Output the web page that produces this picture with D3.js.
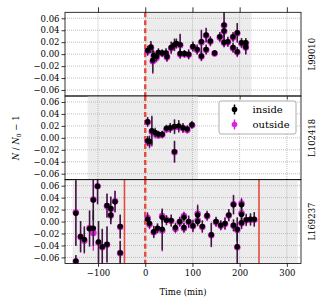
<!DOCTYPE html>
<html><head><meta charset="utf-8">
<script src="https://cdn.jsdelivr.net/npm/d3@7"></script>
<style>body{margin:0;background:#fff}svg{display:block}text{font-family:"DejaVu Serif",serif;fill:#000}</style>
</head><body><svg id="c" width="324" height="306"></svg>
<script>
const panelNames = ["L99010", "L102418", "L169237"];
const xTicks = [-100, 0, 100, 200, 300];
const yTicks = [0.06, 0.04, 0.02, 0.00, -0.02, -0.04, -0.06];
const shadeStart = [0, -122, -154];
const shadeEnd = [225, 112, 323];
const cutLines3 = [-44, 241];

// Panel 1: L99010
const t1 = [5, 12, 16, 18, 24, 28, 36, 44, 46, 55, 62, 66, 74, 74, 83, 92, 101, 110, 119, 119, 129, 129, 138, 147, 158, 167, 167, 167, 175, 186, 186, 195, 195, 204, 213, 213];
const in1 = [0.006, 0.012, -0.010, -0.002, -0.004, 0.003, 0.002, 0.002, -0.004, 0.011, 0.016, 0.018, 0.016, 0.001, 0.001, 0.000, 0.013, 0.008, 0.021, -0.003, 0.032, 0.008, 0.022, 0.002, 0.029, 0.049, 0.039, 0.020, 0.021, 0.029, 0.011, 0.036, 0.004, 0.019, 0.019, 0.012];
const e1 = [0.008, 0.010, 0.021, 0.008, 0.008, 0.007, 0.006, 0.008, 0.008, 0.010, 0.010, 0.008, 0.018, 0.008, 0.006, 0.008, 0.008, 0.008, 0.020, 0.008, 0.012, 0.008, 0.008, 0.005, 0.008, 0.022, 0.010, 0.008, 0.008, 0.008, 0.008, 0.016, 0.008, 0.008, 0.008, 0.012];
const out1 = [0.005, 0.011, -0.012, -0.003, -0.006, 0.002, 0.001, 0.001, -0.005, 0.010, 0.015, 0.017, 0.015, 0.000, 0.000, -0.001, 0.012, 0.007, 0.020, -0.004, 0.031, 0.007, 0.021, 0.001, 0.028, 0.048, 0.038, 0.019, 0.020, 0.028, 0.010, 0.035, 0.003, 0.018, 0.018, 0.011];

// Panel 2: L102418
const t2 = [5, 5, 9, 14, 21, 28, 36, 45, 53, 62, 62, 71, 80, 89, 99];
const in2 = [0.027, -0.005, -0.006, 0.012, 0.009, 0.006, 0.006, 0.016, 0.017, 0.019, -0.023, 0.020, 0.017, 0.015, 0.022];
const e2 = [0.008, 0.008, 0.010, 0.025, 0.008, 0.006, 0.006, 0.006, 0.008, 0.012, 0.018, 0.010, 0.008, 0.006, 0.006];
const out2 = [0.026, -0.006, -0.008, 0.010, 0.007, 0.004, 0.005, 0.014, 0.016, 0.018, -0.024, 0.018, 0.016, 0.013, 0.021];

// Panel 3: L169237
const t3 = [-147, -147, -137, -129, -118, -110, -110, -101, -99, -91, -81, -81, -73, -73, -64, -53, -53,
  5, 9, 18, 26, 36, 36, 45, 55, 64, 73, 82, 82, 92, 101, 111, 111, 121, 131, 140, 150, 160, 169, 177, 187, 187, 195, 195, 204, 204, 204, 214, 223, 231];
const in3 = [0.014, -0.066, -0.025, -0.030, -0.012, -0.011, 0.036, 0.059, -0.034, -0.042, -0.038, 0.027, 0.022, 0.011, 0.033, -0.008, -0.052,
  0.004, -0.003, -0.017, -0.011, -0.013, 0.007, 0.002, 0.002, -0.010, 0.000, 0.007, -0.010, 0.000, -0.007, 0.011, 0.000, -0.008, 0.010, -0.022, 0.000, -0.006, -0.003, 0.011, 0.028, -0.006, -0.013, -0.042, 0.028, 0.012, -0.002, 0.003, 0.004, 0.004];
const e3 = [0.055, 0.010, 0.026, 0.022, 0.030, 0.030, 0.034, 0.030, 0.035, 0.030, 0.030, 0.020, 0.020, 0.015, 0.018, 0.020, 0.020,
  0.010, 0.008, 0.010, 0.008, 0.035, 0.010, 0.008, 0.010, 0.008, 0.008, 0.008, 0.008, 0.010, 0.010, 0.016, 0.008, 0.010, 0.008, 0.020, 0.008, 0.008, 0.010, 0.010, 0.016, 0.010, 0.020, 0.030, 0.010, 0.012, 0.010, 0.010, 0.010, 0.012];
const out3 = [0.015, -0.067, -0.026, -0.032, -0.011, -0.019, 0.037, 0.059, -0.035, -0.043, -0.039, 0.026, 0.021, 0.010, 0.034, -0.009, -0.053,
  0.006, -0.005, -0.018, -0.012, -0.015, 0.009, 0.003, 0.001, -0.012, -0.001, 0.009, -0.011, -0.001, -0.008, 0.013, 0.002, -0.009, 0.009, -0.023, -0.001, -0.007, -0.004, 0.010, 0.029, -0.007, -0.014, -0.043, 0.030, 0.014, -0.003, 0.002, 0.003, 0.003];

const series = [
  {t: t1, inside: in1, err: e1, outside: out1},
  {t: t2, inside: in2, err: e2, outside: out2},
  {t: t3, inside: in3, err: e3, outside: out3}
];

const svg = d3.select("#c");
const L = 65, R = 301, tops = [12.3, 96, 179.7], H = 83.7;
const x = d3.scaleLinear().domain([-170, 330]).range([L, R]);
const red = "#e6493f", mag = "#e020e0", ink = "#1a1a1a";
const fmt = v => (v < 0 ? "\u2212" : "") + Math.abs(v).toFixed(2);

series.forEach((s, i) => {
  const top = tops[i];
  const y = d3.scaleLinear().domain([-0.07, 0.07]).range([top + H, top]);
  const g = svg.append("g");
  const cid = "clip" + i;
  svg.append("clipPath").attr("id", cid).append("rect").attr("x", L).attr("y", top).attr("width", R - L).attr("height", H);
  const p = g.append("g").attr("clip-path", `url(#${cid})`);
  p.append("rect").attr("x", x(shadeStart[i])).attr("y", top).attr("width", x(shadeEnd[i]) - x(shadeStart[i])).attr("height", H).attr("fill", "#ececec");
  // grid
  p.selectAll(".gy").data(yTicks).join("line").attr("x1", L).attr("x2", R).attr("y1", d => y(d)).attr("y2", d => y(d))
    .attr("stroke", "#b0b0b0").attr("stroke-width", 0.8).attr("stroke-dasharray", "1,1");
  p.selectAll(".gx").data(xTicks).join("line").attr("x1", d => x(d)).attr("x2", d => x(d)).attr("y1", top).attr("y2", top + H)
    .attr("stroke", "#b0b0b0").attr("stroke-width", 0.8).attr("stroke-dasharray", "1,1");
  // red lines
  p.append("line").attr("x1", x(0)).attr("x2", x(0)).attr("y1", top).attr("y2", top + H)
    .attr("stroke", red).attr("stroke-width", 2.4).attr("stroke-dasharray", "5,3");
  if (i === 2) {
    p.selectAll(".cut").data(cutLines3).join("line").attr("x1", d => x(d)).attr("x2", d => x(d)).attr("y1", top).attr("y2", top + H)
      .attr("stroke", red).attr("stroke-width", 1.6);
  }
  const idx = d3.range(s.t.length);
  // outside
  p.selectAll(".eo").data(idx).join("line").attr("x1", k => x(s.t[k])).attr("x2", k => x(s.t[k]))
    .attr("y1", k => y(s.outside[k] - s.err[k])).attr("y2", k => y(s.outside[k] + s.err[k]))
    .attr("stroke", mag).attr("stroke-width", 1.3);
  p.selectAll(".mo").data(idx).join("circle").attr("cx", k => x(s.t[k])).attr("cy", k => y(s.outside[k])).attr("r", 3.3).attr("fill", mag);
  // inside
  p.selectAll(".ei").data(idx).join("line").attr("x1", k => x(s.t[k])).attr("x2", k => x(s.t[k]))
    .attr("y1", k => y(s.inside[k] - s.err[k])).attr("y2", k => y(s.inside[k] + s.err[k]))
    .attr("stroke", ink).attr("stroke-opacity", 0.85).attr("stroke-width", 1.5);
  p.selectAll(".mi").data(idx).join("circle").attr("cx", k => x(s.t[k])).attr("cy", k => y(s.inside[k])).attr("r", 2.7).attr("fill", "#000");

  // y axis
  const ya = d3.axisLeft(y).tickValues(yTicks).tickSize(3.5).tickPadding(2).tickFormat(fmt);
  const yg = g.append("g").attr("transform", `translate(${L},0)`).call(ya);
  yg.select(".domain").remove();
  yg.selectAll("text").attr("font-size", 8.5).attr("font-family", "DejaVu Serif");
  yg.selectAll("line").attr("stroke", "#000").attr("stroke-width", 0.8);
  // x ticks bottom
  const xa = d3.axisBottom(x).tickValues(xTicks).tickSize(3.5).tickPadding(3).tickFormat(i === 2 ? d => (d < 0 ? "\u2212" : "") + Math.abs(d) : "");
  const xg = g.append("g").attr("transform", `translate(0,${top + H})`).call(xa);
  xg.select(".domain").remove();
  xg.selectAll("text").attr("font-size", 8.5).attr("font-family", "DejaVu Serif");
  xg.selectAll("line").attr("stroke", "#000").attr("stroke-width", 0.8);
  if (i === 0) {
    const xt = d3.axisTop(x).tickValues(xTicks).tickSize(5).tickFormat("");
    const xtg = g.append("g").attr("transform", `translate(0,${top})`).call(xt);
    xtg.select(".domain").remove();
    xtg.selectAll("line").attr("stroke", "#000").attr("stroke-width", 0.8);
  }
  // frame
  g.append("rect").attr("x", L).attr("y", top).attr("width", R - L).attr("height", H)
    .attr("fill", "none").attr("stroke", "#000").attr("stroke-width", 0.8);
  // right label
  g.append("text").attr("transform", `translate(${R + 14},${top + H / 2}) rotate(-90)`)
    .attr("text-anchor", "middle").attr("font-size", 8.5).text(panelNames[i]);
});

// axis labels
svg.append("text").attr("x", (L + R) / 2).attr("y", 295).attr("text-anchor", "middle").attr("font-size", 8.5).text("Time (min)");
const yl = svg.append("text").attr("transform", `translate(19,${tops[1] + H / 2}) rotate(-90)`).attr("text-anchor", "middle").attr("font-size", 8.5);
yl.append("tspan").attr("font-style", "italic").text("N");
yl.append("tspan").text(" / ");
yl.append("tspan").attr("font-style", "italic").text("N");
yl.append("tspan").attr("font-size", 6).attr("dy", 2).text("0");
yl.append("tspan").attr("dy", -2).text(" \u2212 1");

// legend
const lg = svg.append("g");
lg.append("rect").attr("x", 219).attr("y", 101).attr("width", 77).attr("height", 33).attr("rx", 2)
  .attr("fill", "#fff").attr("fill-opacity", 0.9).attr("stroke", "#999").attr("stroke-width", 0.8);
const legendItems = [{label: "inside", color: "#000", ey: 109.5}, {label: "outside", color: mag, ey: 124.5}];
legendItems.forEach(it => {
  lg.append("line").attr("x1", 234.5).attr("x2", 234.5).attr("y1", it.ey - 5).attr("y2", it.ey + 5).attr("stroke", it.color).attr("stroke-width", 1.5);
  lg.append("circle").attr("cx", 234.5).attr("cy", it.ey).attr("r", 2.8).attr("fill", it.color);
  lg.append("text").attr("x", 252.5).attr("y", it.ey + 3.5).attr("font-size", 10).text(it.label);
});
</script></body></html>
